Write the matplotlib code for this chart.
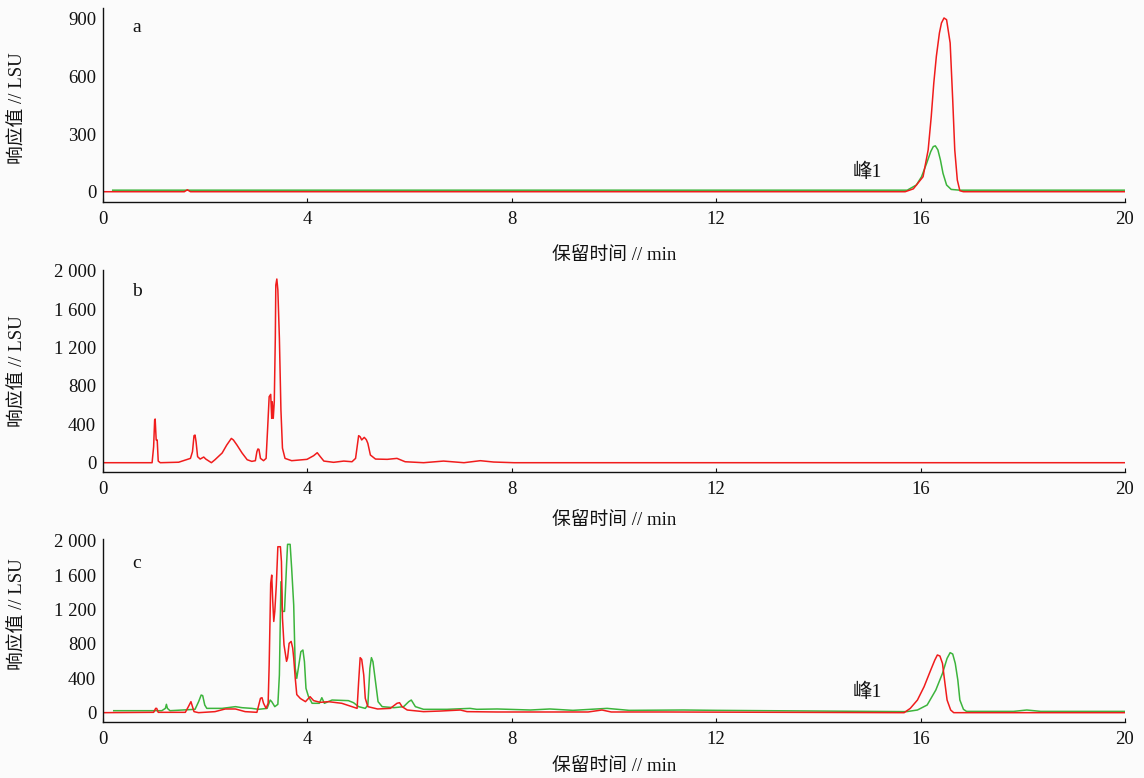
import matplotlib
matplotlib.use("Agg")
import matplotlib.pyplot as plt
from matplotlib.ticker import FuncFormatter

plt.rcParams['font.family'] = ['Liberation Serif', 'Noto Sans CJK SC']

# ---------------- data ----------------
x_ticks = [0, 4, 8, 12, 16, 20]
a_yticks = [0, 300, 600, 900]
bc_yticks = [0, 400, 800, 1200, 1600, 2000]

a_red_t = [0, 1.60, 1.66, 1.72, 15.70, 15.86, 16.05, 16.15, 16.21, 16.26, 16.31, 16.37, 16.41,
           16.46, 16.51, 16.58, 16.63, 16.67, 16.72, 16.77, 16.84, 20]
a_red_v = [0, 0, 10, 0, 0, 15, 78, 218, 391, 566, 705, 827, 879,
           905, 896, 775, 479, 218, 61, 5, 0, 0]
a_green_t = [0.2, 15.74, 15.92, 16.02, 16.12, 16.20, 16.25, 16.29, 16.34, 16.39, 16.44, 16.51,
             16.60, 16.77, 20]
a_green_v = [8, 8, 35, 78, 148, 209, 235, 239, 218, 165, 96, 35, 12, 8, 8]

b_red_t = [0, 0.97, 1.00, 1.02, 1.03, 1.05, 1.07, 1.09, 1.13, 1.49, 1.72, 1.76, 1.79, 1.81,
           1.83, 1.86, 1.91, 1.98, 2.02, 2.13, 2.20, 2.34, 2.43, 2.52, 2.56, 2.63, 2.73, 2.83,
           2.92, 2.99, 3.02, 3.04, 3.06, 3.09, 3.15, 3.20, 3.23, 3.26, 3.29, 3.31, 3.32, 3.34,
           3.36, 3.38, 3.39, 3.41, 3.43, 3.46, 3.49, 3.52, 3.57, 3.70, 4.00, 4.13, 4.20, 4.26,
           4.33, 4.52, 4.72, 4.88, 4.95, 5.01, 5.04, 5.07, 5.12, 5.16, 5.19, 5.24, 5.34, 5.57,
           5.76, 5.92, 6.28, 6.67, 7.07, 7.39, 7.65, 8.05, 20]
b_red_v = [0, 0, 167, 445, 455, 237, 237, 17, 0, 5, 45, 115, 282, 288,
           219, 63, 38, 59, 38, 0, 31, 101, 184, 253, 237, 184, 101, 31,
           14, 21, 115, 143, 139, 45, 21, 45, 358, 688, 712, 462, 636, 462,
           636, 1296, 1851, 1914, 1800, 1296, 549, 152, 45, 21, 35, 73, 104, 63,
           17, 4, 17, 10, 45, 282, 270, 237, 264, 240, 202, 80, 38, 35,
           45, 10, 0, 17, 0, 21, 7, 0, 0]

c_red_t = [0, 1.00, 1.04, 1.06, 1.09, 1.62, 1.68, 1.73, 1.76, 1.79, 1.88, 2.20, 2.40, 2.60,
           2.79, 3.02, 3.09, 3.12, 3.15, 3.20, 3.24, 3.26, 3.29, 3.31, 3.33, 3.35, 3.37, 3.40,
           3.43, 3.48, 3.50, 3.52, 3.55, 3.60, 3.62, 3.65, 3.69, 3.72, 3.74, 3.77, 3.80, 3.87,
           3.97, 4.06, 4.13, 4.26, 4.42, 4.68, 4.88, 4.98, 5.01, 5.04, 5.07, 5.11, 5.14, 5.19,
           5.38, 5.63, 5.76, 5.81, 5.86, 5.96, 6.28, 6.61, 7.00, 7.13, 7.72, 9.50, 9.77, 9.95,
           11.0, 15.68, 15.80, 15.94, 16.07, 16.20, 16.28, 16.33, 16.38, 16.43, 16.47, 16.52,
           16.59, 16.65, 20]
c_red_v = [0, 4, 50, 50, 4, 4, 70, 128, 70, 12, 0, 12, 43, 43,
           12, 4, 167, 174, 109, 50, 109, 554, 1504, 1600, 1294, 1061, 1178, 1485,
           1930, 1930, 1756, 1100, 790, 597, 636, 806, 829, 752, 636, 403, 210, 165,
           128, 186, 140, 120, 128, 109, 70, 50, 360, 640, 620, 438, 167, 70,
           43, 50, 109, 116, 70, 31, 12, 19, 31, 12, 8, 8, 31, 8,
           8, 0, 50, 147, 302, 496, 612, 671, 659, 573, 380, 147,
           31, 0, 0]
c_green_t = [0.22, 1.16, 1.23, 1.25, 1.27, 1.32, 1.81, 1.88, 1.93, 1.96, 2.00, 2.04, 2.34, 2.60,
             2.73, 2.92, 3.05, 3.22, 3.28, 3.31, 3.37, 3.43, 3.46, 3.49, 3.52, 3.56, 3.60, 3.62,
             3.67, 3.70, 3.74, 3.77, 3.80, 3.84, 3.88, 3.92, 3.95, 3.98, 4.03, 4.10, 4.24, 4.29,
             4.34, 4.49, 4.81, 4.91, 5.01, 5.14, 5.19, 5.23, 5.26, 5.29, 5.34, 5.39, 5.47, 5.70,
             5.89, 5.99, 6.04, 6.12, 6.28, 6.74, 7.19, 7.32, 7.72, 8.37, 8.75, 9.20, 9.87, 10.3,
             11.36, 12.0, 15.73, 15.94, 16.13, 16.30, 16.43, 16.52, 16.58, 16.63, 16.68, 16.73,
             16.77, 16.84, 16.90, 17.82, 18.08, 18.35, 20]
c_green_v = [23, 23, 50, 97, 50, 23, 39, 128, 205, 198, 89, 50, 50, 70,
             58, 50, 39, 50, 147, 128, 70, 97, 438, 1523, 1178, 1178, 1717, 1958,
             1958, 1678, 1252, 515, 399, 554, 709, 729, 593, 283, 186, 109, 109, 174,
             109, 147, 140, 116, 70, 50, 89, 515, 640, 593, 360, 128, 70, 58,
             70, 128, 147, 70, 39, 39, 50, 39, 43, 31, 43, 27, 50, 27,
             31, 27, 12, 31, 89, 264, 457, 632, 698, 682, 573, 380,
             147, 39, 15, 15, 31, 15, 15]

panel_letters = ['a', 'b', 'c']
xlabel_text = '保留时间 // min'
ylabel_text = '响应值 // LSU'
peak_label = '峰1'

RED = '#f01c1c'
GREEN = '#3cb43c'
BG = '#fbfbfb'

W, H = 1144, 778
fig = plt.figure(figsize=(W / 100, H / 100), dpi=100, facecolor=BG)


def px_axes(left, top, right, bottom):
    return fig.add_axes([left / W, 1 - bottom / H, (right - left) / W, (bottom - top) / H])


fmt = FuncFormatter(lambda v, p: f"{int(round(v)):,}".replace(",", " "))

ax_a = px_axes(102.5, 8, 1125, 201.7)
ax_b = px_axes(102.5, 270, 1125, 472.3)
ax_c = px_axes(102.5, 539, 1125, 721.7)

ax_a.plot(a_green_t, a_green_v, color=GREEN, lw=1.1)
ax_a.plot(a_red_t, a_red_v, color=RED, lw=1.1)
ax_b.plot(b_red_t, b_red_v, color=RED, lw=1.1)
ax_c.plot(c_green_t, c_green_v, color=GREEN, lw=1.1)
ax_c.plot(c_red_t, c_red_v, color=RED, lw=1.1)

ax_a.set_ylim(-52, 957)
ax_b.set_ylim(-100, 2008)
ax_c.set_ylim(-105, 2020)

for ax, yt in zip([ax_a, ax_b, ax_c], [a_yticks, bc_yticks, bc_yticks]):
    ax.set_facecolor(BG)
    ax.set_xlim(0, 20)
    ax.set_xticks(x_ticks)
    ax.set_yticks(yt)
    ax.yaxis.set_major_formatter(fmt)
    for s in ['top', 'right']:
        ax.spines[s].set_visible(False)
    for s in ['left', 'bottom']:
        ax.spines[s].set_linewidth(1.0)
        ax.spines[s].set_color('#111111')
    ax.tick_params(axis='x', direction='in', length=3, width=0.8, pad=6.5,
                   labelsize=13.5, colors='#111111')
    ax.tick_params(axis='y', direction='in', length=0, pad=4.5,
                   labelsize=13.5, colors='#111111')

# panel letters
for ax, letter, (x, y) in zip([ax_a, ax_b, ax_c], panel_letters,
                              [(137, 27), (137, 292), (137, 564)]):
    fig.text(x / W, 1 - y / H, letter, fontsize=14, ha='center', va='center', color='#111111')

# x labels
for y in [255, 520, 766]:
    fig.text(614 / W, 1 - y / H, xlabel_text, fontsize=13.5, ha='center', va='center',
             color='#111111')

# y labels
for y in [108, 371, 614]:
    fig.text(18 / W, 1 - y / H, ylabel_text, fontsize=13.5, ha='center', va='center',
             rotation=90, color='#111111')

# peak labels
for y in [172, 692]:
    fig.text(867 / W, 1 - y / H, peak_label, fontsize=14, ha='center', va='center',
             color='#111111')

fig.savefig('out.png', dpi=100, facecolor=BG)
